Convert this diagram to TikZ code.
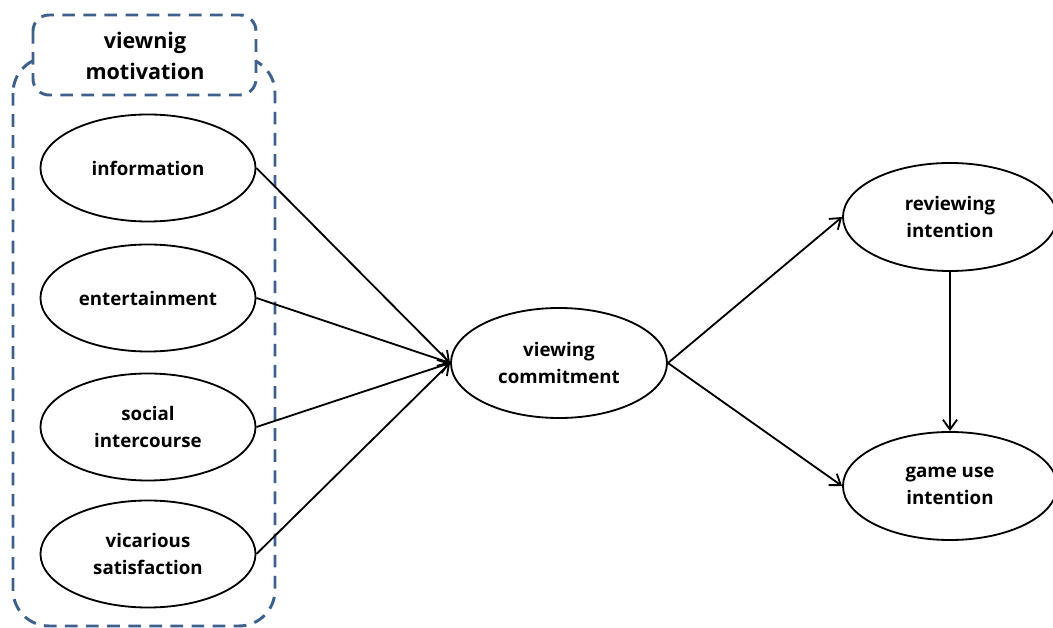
\documentclass[tikz,border=0pt]{standalone}
\usepackage{fontspec}
\setmainfont{Open Sans}
\usepackage{tikz}
\usetikzlibrary{shapes.geometric, arrows.meta}
\definecolor{dashblue}{RGB}{62,96,140}
\tikzstyle{factor} = [ellipse, draw=black, line width=1.3pt, fill=white, minimum width=5.375cm, minimum height=2.675cm, inner sep=0pt, align=center, font=\fontsize{13.3}{19}\selectfont\bfseries]
\tikzstyle{arrow} = [line width=1.3pt, -{Straight Barb[length=7pt,width=10pt,line width=1.3pt]}]
\tikzstyle{group} = [draw=dashblue, line width=2.1pt, dash pattern=on 9pt off 6pt]

\begin{document}
\begin{tikzpicture}[x=0.025cm, y=-0.025cm]
\useasboundingbox (0,0) rectangle (1053,628);
% motivation group
\path[group, rounded corners=0.9cm] (13,57) rectangle (275,626);
\path[group, fill=white, rounded corners=0.4cm] (33,15) rectangle (256,95);
\node (title) at (145,56) [align=center, font=\fontsize{15.3}{21.5}\selectfont\bfseries] {viewnig\\motivation};
\node[factor] (info) at (148,168) {information};
\node[factor] (ent) at (148,298) {entertainment};
\node[factor] (social) at (148,427) {social\\intercourse};
\node[factor] (vic) at (148,554) {vicarious\\satisfaction};
\node[factor, minimum width=5.4cm, minimum height=2.75cm] (commit) at (559,363) {viewing\\commitment};
\node[factor, minimum width=5.35cm, minimum height=2.7cm] (review) at (950,217) {reviewing\\intention};
\node[factor, minimum width=5.35cm, minimum height=2.7cm] (gameuse) at (950,486) {game use\\intention};
\path[arrow] (info.east) edge (commit.west);
\path[arrow] (ent.east) edge (commit.west);
\path[arrow] (social.east) edge (commit.west);
\path[arrow] (vic.east) edge (commit.west);
\path[arrow] (commit.east) edge (review.west);
\path[arrow] (commit.east) edge (gameuse.west);
\path[arrow] (review.south) edge (gameuse.north);
\end{tikzpicture}
\end{document}
